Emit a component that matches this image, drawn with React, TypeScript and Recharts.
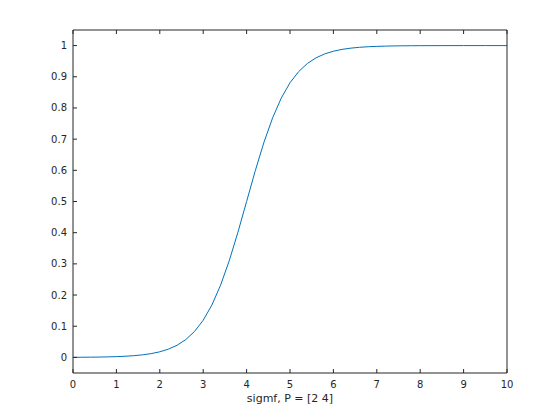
import React from 'react';
import { LineChart, Line, XAxis, YAxis } from 'recharts';

const xValues = [0, 0.2, 0.4, 0.6, 0.8, 1.0, 1.2, 1.4, 1.6, 1.8, 2.0, 2.2, 2.4, 2.6, 2.8, 3.0, 3.2, 3.4, 3.6, 3.8, 4.0, 4.2, 4.4, 4.6, 4.8, 5.0, 5.2, 5.4, 5.6, 5.8, 6.0, 6.2, 6.4, 6.6, 6.8, 7.0, 7.2, 7.4, 7.6, 7.8, 8.0, 8.5, 9.0, 9.5, 10.0];
const yValues = [0.0003, 0.0005, 0.0008, 0.0011, 0.0017, 0.0025, 0.0037, 0.0055, 0.0082, 0.0121, 0.018, 0.0266, 0.0392, 0.0573, 0.0832, 0.1192, 0.168, 0.2315, 0.31, 0.4013, 0.5, 0.5987, 0.69, 0.7685, 0.832, 0.8808, 0.9168, 0.9427, 0.9608, 0.9734, 0.982, 0.9879, 0.9918, 0.9945, 0.9963, 0.9975, 0.9983, 0.9989, 0.9993, 0.9995, 0.9997, 0.9999, 1.0, 1.0, 1.0];
const xTicks = [0, 1, 2, 3, 4, 5, 6, 7, 8, 9, 10];
const yTicks = [0, 0.1, 0.2, 0.3, 0.4, 0.5, 0.6, 0.7, 0.8, 0.9, 1];
const xLabel = 'sigmf, P = [2 4]';

const data = xValues.map((x, i) => ({ x, y: yValues[i] }));

const AX = '#262626';
const FONT = 'DejaVu Sans, sans-serif';

const BottomTick = (props: any) => {
  const { x, y, payload } = props;
  return (
    <g>
      <line x1={x} x2={x} y1={y} y2={y - 4} stroke={AX} strokeWidth={1} />
      <text x={x} y={y + 15} textAnchor="middle" fontSize={10} fill={AX} fontFamily={FONT}>
        {String(payload.value)}
      </text>
    </g>
  );
};

const TopTick = (props: any) => {
  const { x, y } = props;
  return <line x1={x} x2={x} y1={y} y2={y + 4} stroke={AX} strokeWidth={1} />;
};

const LeftTick = (props: any) => {
  const { x, y, payload } = props;
  const v = Math.round(payload.value * 10) / 10;
  return (
    <g>
      <line x1={x} x2={x + 4} y1={y} y2={y} stroke={AX} strokeWidth={1} />
      <text x={x - 6} y={y + 3.5} textAnchor="end" fontSize={10} fill={AX} fontFamily={FONT}>
        {String(v)}
      </text>
    </g>
  );
};

const RightTick = (props: any) => {
  const { x, y } = props;
  return <line x1={x} x2={x - 4} y1={y} y2={y} stroke={AX} strokeWidth={1} />;
};

export default function App() {
  return (
    <div style={{ position: 'absolute', left: 0, top: 0, width: 560, height: 420, background: '#fff' }}>
      <LineChart width={560} height={420} data={data} margin={{ top: 29, right: 52, bottom: 46, left: 72 }}>
        <XAxis
          dataKey="x"
          type="number"
          domain={[0, 10]}
          ticks={xTicks}
          height={1}
          tickSize={0}
          tickMargin={0}
          tickLine={false}
          tick={<BottomTick />}
          axisLine={{ stroke: AX }}
          interval={0}
        />
        <XAxis
          xAxisId="top"
          orientation="top"
          dataKey="x"
          type="number"
          domain={[0, 10]}
          ticks={xTicks}
          height={1}
          tickSize={0}
          tickMargin={0}
          tickLine={false}
          tick={<TopTick />}
          axisLine={{ stroke: AX }}
          interval={0}
        />
        <YAxis
          type="number"
          domain={[-0.05, 1.05]}
          ticks={yTicks}
          width={1}
          tickSize={0}
          tickMargin={0}
          tickLine={false}
          tick={<LeftTick />}
          axisLine={{ stroke: AX }}
          interval={0}
        />
        <YAxis
          yAxisId="right"
          orientation="right"
          type="number"
          domain={[-0.05, 1.05]}
          ticks={yTicks}
          width={1}
          tickSize={0}
          tickMargin={0}
          tickLine={false}
          tick={<RightTick />}
          axisLine={{ stroke: AX }}
          interval={0}
        />
        <Line
          type="linear"
          dataKey="y"
          stroke="#0072BD"
          strokeWidth={1}
          dot={false}
          isAnimationActive={false}
        />
      </LineChart>
      <div
        style={{
          position: 'absolute',
          left: 73,
          width: 434,
          top: 392,
          textAlign: 'center',
          fontFamily: FONT,
          fontSize: 11,
          color: AX,
          lineHeight: '14px',
        }}
      >
        {xLabel}
      </div>
    </div>
  );
}
